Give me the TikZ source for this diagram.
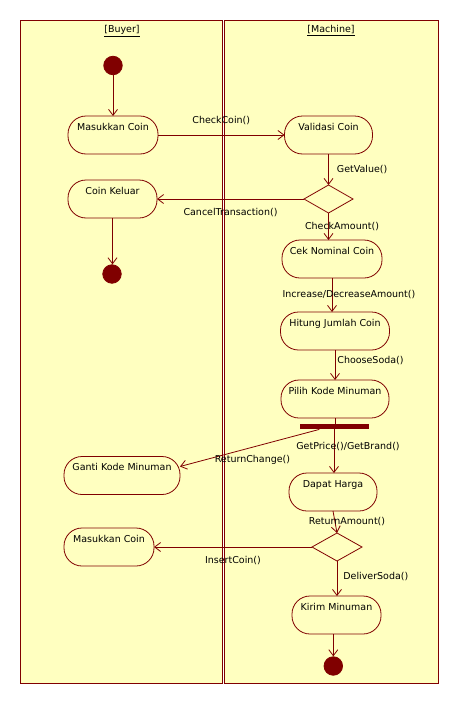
\documentclass[tikz,border=0pt]{standalone}
\usepackage{fontspec}
\setmainfont{DejaVu Sans}
\usetikzlibrary{positioning}
\usetikzlibrary{shapes.geometric,arrows.meta,calc}
\definecolor{lanefill}{RGB}{255,255,192}
\definecolor{umlred}{RGB}{128,0,0}

\begin{document}
\begin{tikzpicture}[x=1pt,y=-1pt,>={Straight Barb[length=6pt,width=9pt]},
	font=\fontsize{9.5}{11}\selectfont,line width=.8pt,color=umlred,text=black,
	lane/.style={draw=umlred,fill=lanefill,minimum height=663pt,inner sep=0pt,outer sep=0pt,anchor=north west},
	act/.style={draw=umlred,fill=lanefill,rounded corners=18pt,text height=14pt,text depth=24pt,inner ysep=0pt,outer sep=0pt},
	decision/.style={diamond,draw=umlred,fill=lanefill,minimum width=49pt,minimum height=28pt,inner sep=0pt,outer sep=0pt},
	dot/.style={circle,draw=umlred,fill=umlred,minimum size=18.5pt,inner sep=0pt},
	forkbar/.style={rectangle,fill=umlred,minimum width=69pt,minimum height=5pt,inner sep=0pt},
	lbl/.style={inner sep=1pt}]
	\useasboundingbox[fill=white] (0,0) rectangle (459,704);

	% swimlanes
	\node [lane,minimum width=202pt] at (20,20) (buyer) {};
	\node [lane,minimum width=214pt] at (224,20) (machine) {};
	\node at (122,31) (buyer_txt) {\underline{[Buyer]}};
	\node at (331,31) (machine_txt) {\underline{[Machine]}};

	% buyer
	\node [dot] at (113,65.5) (start) {};
	\node [act,minimum width=90pt] at (113,135) (masuk1) {Masukkan Coin};
	\node [act,minimum width=89pt] at (112.5,199) (keluar) {Coin Keluar};
	\node [dot] at (112,274) (end1) {};
	\node [act,minimum width=116pt] at (122,475.5) (ganti) {Ganti Kode Minuman};
	\node [act,minimum width=90pt] at (109,547) (masuk2) {Masukkan Coin};

	% machine
	\node [act,minimum width=88pt] at (328.5,135) (validasi) {Validasi Coin};
	\node [decision] at (328.5,199) (dec1) {};
	\node [act,minimum width=100pt] at (332,259) (ceknom) {Cek Nominal Coin};
	\node [act,minimum width=109pt] at (335,331) (hitung) {Hitung Jumlah Coin};
	\node [act,minimum width=108pt] at (335,399) (pilih) {Pilih Kode Minuman};
	\node [forkbar] at (334,426.5) (fork) {};
	\node [act,minimum width=88pt] at (333,492) (dapat) {Dapat Harga};
	\node [decision,minimum width=50pt] at (337,547) (dec2) {};
	\node [act,minimum width=89pt] at (336.5,615) (kirim) {Kirim Minuman};
	\node [dot] at (333.3,666) (end2) {};
	\coordinate (fork_out) at ($(fork.south west)!.29!(fork.south east)$);

	\draw[->] (start) -- (masuk1);
	\draw[->] (masuk1) -- (validasi) node[lbl,midway,yshift=14pt] (l_checkcoin) {CheckCoin()};
	\draw[->] (validasi.south) -- (validasi.south|-dec1.north) node[lbl,midway,anchor=west,xshift=7pt] (l_getvalue) {GetValue()};
	\draw[->] (dec1.west) -- (keluar.east) node[lbl,midway,yshift=-14pt] (l_cancel) {CancelTransaction()};
	\draw[->] (keluar.south) -- (keluar.south|-end1.north);
	\draw[->] (dec1.south) -- (dec1.south|-ceknom.north) node[lbl,midway,xshift=13.5pt] (l_checkamount) {CheckAmount()};
	\draw[->] (ceknom.south) -- (ceknom.south|-hitung.north) node[lbl,midway,xshift=17pt] (l_incdec) {Increase/DecreaseAmount()};
	\draw[->] (hitung.south) -- (hitung.south|-pilih.north) node[lbl,pos=.35,anchor=west,xshift=1pt] (l_choose) {ChooseSoda()};
	\draw (pilih.south) -- (pilih.south|-fork.north);
	\draw[->] (fork.south) -- (fork.south|-dapat.north) node[lbl,pos=.39,xshift=14pt] (l_getprice) {GetPrice()/GetBrand()};
	\draw[->] (fork_out) -- ([yshift=9pt]ganti.east) node[lbl,pos=.48,yshift=-13pt] (l_return) {ReturnChange()};
	\draw[->] (dapat.south) -- (dec2.north) node[lbl,midway,xshift=12pt] (l_retamount) {ReturnAmount()};
	\draw[->] (dec2.west) -- (masuk2.east) node[lbl,midway,yshift=-14pt] (l_insert) {InsertCoin()};
	\draw[->] (dec2.south) -- (dec2.south|-kirim.north) node[lbl,pos=.43,anchor=west,xshift=5pt] (l_deliver) {DeliverSoda()};
	\draw[->] (end2.north|-kirim.south) -- (end2.north);
\end{tikzpicture}
\end{document}
